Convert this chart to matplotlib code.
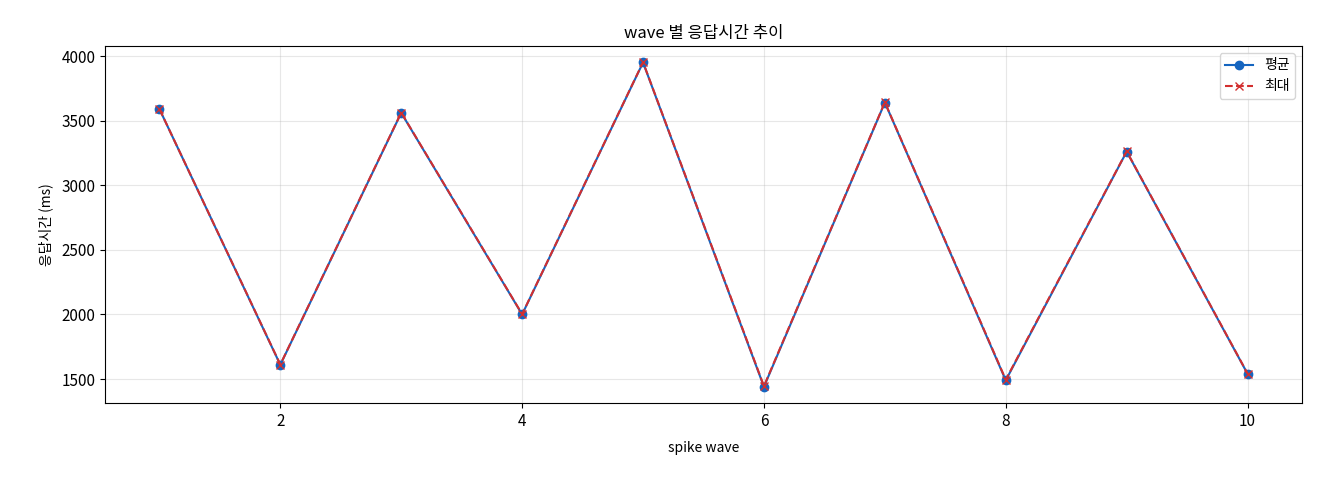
import matplotlib
matplotlib.use("Agg")
import matplotlib.pyplot as plt

plt.rcParams['font.family'] = ['Noto Sans CJK KR', 'DejaVu Sans']

waves = [1, 2, 3, 4, 5, 6, 7, 8, 9, 10]
avg_ms = [3590, 1610, 3560, 2000, 3950, 1440, 3640, 1490, 3260, 1540]
max_ms = [3590, 1612, 3562, 2002, 3952, 1445, 3642, 1495, 3262, 1542]

fig = plt.figure(figsize=(13.2, 4.8), dpi=100)
ax = fig.add_axes([105/1320, 77/480, 1197/1320, 357/480])
ax.plot(waves, avg_ms, '-o', color='#1565c0', label='평균', markersize=6)
ax.plot(waves, max_ms, '--x', color='#d32f2f', label='최대', markersize=6)
ax.set_title('wave 별 응답시간 추이', fontsize=12)
ax.set_xlabel('spike wave', fontsize=10, labelpad=8)
ax.set_ylabel('응답시간 (ms)', fontsize=10, labelpad=6)
ax.tick_params(labelsize=11)
ax.grid(True, alpha=0.3)
ax.legend(loc='upper right', fontsize=10)
fig.savefig('out.png', dpi=100)
